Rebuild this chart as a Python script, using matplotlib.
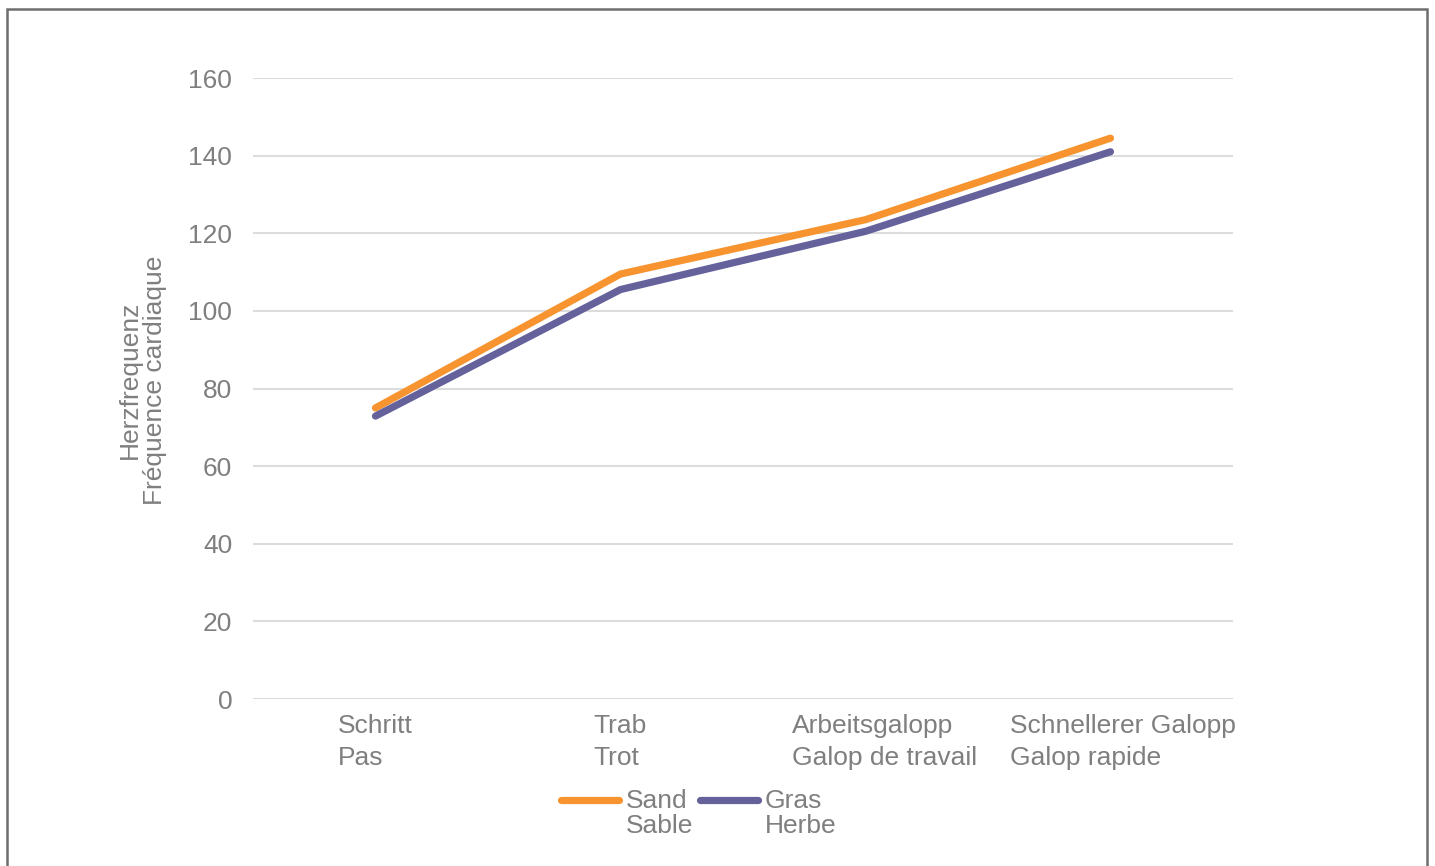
import matplotlib
matplotlib.use("Agg")
import matplotlib.pyplot as plt
from matplotlib.patches import Rectangle
from matplotlib.legend_handler import HandlerLine2D
from matplotlib.transforms import ScaledTranslation, blended_transform_factory

plt.rcParams['font.family'] = ['Liberation Sans', 'DejaVu Sans']

categories = ["Schritt\nPas", "Trab\nTrot", "Arbeitsgalopp\nGalop de travail",
              "Schnellerer Galopp\nGalop rapide"]
sand = [75.0, 109.5, 123.5, 144.5]
gras = [72.9, 105.5, 120.5, 141.0]
series_labels = ["Sand\nSable", "Gras\nHerbe"]
y_ticks = [0, 20, 40, 60, 80, 100, 120, 140, 160]
y_label = "Herzfrequenz\nFréquence cardiaque"

ORANGE = "#F7942F"
PURPLE = "#65619B"
TEXT = "#7F7F7F"
GRID = "#DCDCDC"
FS = 19

fig = plt.figure(figsize=(14.35, 8.66), dpi=100)
ax = fig.add_axes([0.1763, 0.1928, 0.8592 - 0.1763, 0.9099 - 0.1928])

x = list(range(len(categories)))
l1, = ax.plot(x, sand, color=ORANGE, lw=5.2, solid_capstyle="round",
              solid_joinstyle="miter", label=series_labels[0], zorder=3)
l2, = ax.plot(x, gras, color=PURPLE, lw=5.2, solid_capstyle="round",
              solid_joinstyle="miter", label=series_labels[1], zorder=3)

ax.set_xlim(-0.5, len(categories) - 0.5)
ax.set_ylim(0, 160)
ax.set_yticks(y_ticks)
ax.set_xticks(x)
ax.set_xticklabels([])
ax.tick_params(axis="y", labelsize=FS, labelcolor=TEXT, length=0, pad=15)
ax.tick_params(axis="x", length=0)
ax.grid(axis="y", color=GRID, lw=1.5)
ax.set_axisbelow(True)
for s in ax.spines.values():
    s.set_visible(False)

# category labels under each point; the longer ones sit a little to the right
xtrans = blended_transform_factory(ax.transData, ax.transAxes)
for xi, cat, dx in zip(x, categories, [0, 0, 19, 12]):
    ax.text(xi, 0, cat, transform=xtrans + ScaledTranslation(dx / 100, -0.15, fig.dpi_scale_trans),
            fontsize=FS, color=TEXT, ha="center", va="top",
            multialignment="left", linespacing=1.4)

fig.text(0.099, 0.561, y_label, rotation=90, fontsize=FS, color=TEXT,
         ha="center", va="center", multialignment="center", linespacing=1.05)


class TopLineHandler(HandlerLine2D):
    """Places the legend line next to the first text line."""
    def create_artists(self, legend, orig_handle, xdescent, ydescent,
                       width, height, fontsize, trans):
        arts = super().create_artists(legend, orig_handle, xdescent, ydescent,
                                      width, height, fontsize, trans)
        for a in arts:
            yd = a.get_ydata()
            a.set_ydata([v + 0.5 * fontsize for v in yd])
        return arts


leg = fig.legend(handles=[l1, l2], labels=series_labels, ncol=2, frameon=False,
                 loc="center", bbox_to_anchor=(0.487, 0.061),
                 fontsize=FS, handlelength=2.2, handletextpad=0.25,
                 columnspacing=0.25, labelcolor=TEXT,
                 handler_map={l1: TopLineHandler(), l2: TopLineHandler()})
for t in leg.get_texts():
    t.set_linespacing(1.05)

# outer frame around the chart, open at the bottom
frame = Rectangle((7 / 1435, -0.05), (1427 - 7) / 1435, 1 - 9 / 866 + 0.05,
                  transform=fig.transFigure, fill=False, edgecolor="#6E6E6E",
                  lw=1.8, zorder=10)
fig.patches.append(frame)

fig.savefig("out.png", dpi=100, facecolor="white")
